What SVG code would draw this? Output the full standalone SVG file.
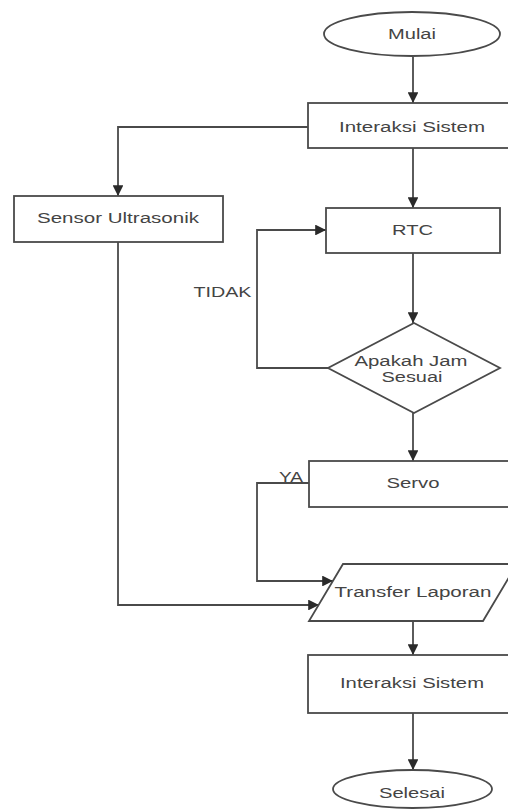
<svg xmlns="http://www.w3.org/2000/svg" width="508" height="809" viewBox="0 0 508 809">
<style>
.s{fill:#ffffff;stroke:#4a4a4a;stroke-width:1.8}
.c{fill:none;stroke:#4a4a4a;stroke-width:1.8}
.t{font-family:"Liberation Sans",Arial,sans-serif;font-size:14px;fill:#444444;text-anchor:middle}
</style>
<defs>
<marker id="a" viewBox="0 0 10 10" refX="10" refY="5" markerWidth="6" markerHeight="6" orient="auto" markerUnits="strokeWidth">
<path d="M0,0 L10,5 L0,10 Z" fill="#2a2a2a"/>
</marker>
</defs>
<rect width="508" height="809" fill="#ffffff"/>
<g id="connectors">
<path class="c" d="M413,57 V103" marker-end="url(#a)"/>
<path class="c" d="M308,127 H118 V196" marker-end="url(#a)"/>
<path class="c" d="M413,148 V208" marker-end="url(#a)"/>
<path class="c" d="M413,253 V323" marker-end="url(#a)"/>
<path class="c" d="M328,368 H257 V230 H326" marker-end="url(#a)"/>
<path class="c" d="M413,413 V461" marker-end="url(#a)"/>
<path class="c" d="M309,483 H257 V581 H333" marker-end="url(#a)"/>
<path class="c" d="M118,242 V605 H319" marker-end="url(#a)"/>
<path class="c" d="M413,621 V655" marker-end="url(#a)"/>
<path class="c" d="M413,713 V770" marker-end="url(#a)"/>
</g>
<g id="mulai">
<ellipse class="s" cx="412" cy="34" rx="88" ry="22"/>
<text class="t" x="412" y="39" textLength="48" lengthAdjust="spacingAndGlyphs">Mulai</text>
</g>
<g id="interaksi1">
<rect class="s" x="308" y="103" width="210" height="45"/>
<text class="t" x="412" y="132" textLength="146" lengthAdjust="spacingAndGlyphs">Interaksi Sistem</text>
</g>
<g id="sensor">
<rect class="s" x="14" y="196" width="209" height="46"/>
<text class="t" x="118" y="223" textLength="162" lengthAdjust="spacingAndGlyphs">Sensor Ultrasonik</text>
</g>
<g id="rtc">
<rect class="s" x="326" y="208" width="174" height="45"/>
<text class="t" x="412.5" y="235" textLength="41" lengthAdjust="spacingAndGlyphs">RTC</text>
</g>
<g id="tidak">
<text class="t" x="222.5" y="297" textLength="58" lengthAdjust="spacingAndGlyphs">TIDAK</text>
</g>
<g id="apakah">
<polygon class="s" points="414,323 500,368 414,413 328,368"/>
<text class="t" x="411" y="366" textLength="113" lengthAdjust="spacingAndGlyphs">Apakah Jam</text>
<text class="t" x="412" y="382" textLength="61" lengthAdjust="spacingAndGlyphs">Sesuai</text>
</g>
<g id="servo">
<rect class="s" x="309" y="461" width="210" height="46"/>
<text class="t" x="413" y="488" textLength="53" lengthAdjust="spacingAndGlyphs">Servo</text>
</g>
<g id="ya">
<text class="t" x="291" y="482" textLength="24" lengthAdjust="spacingAndGlyphs">YA</text>
</g>
<g id="transfer">
<polygon class="s" points="343,564 517,564 483,621 309,621"/>
<text class="t" x="413" y="597" textLength="157" lengthAdjust="spacingAndGlyphs">Transfer Laporan</text>
</g>
<g id="interaksi2">
<rect class="s" x="308" y="655" width="210" height="58"/>
<text class="t" x="412" y="688" textLength="144" lengthAdjust="spacingAndGlyphs">Interaksi Sistem</text>
</g>
<g id="selesai">
<ellipse class="s" cx="412.5" cy="789" rx="79.5" ry="19"/>
<text class="t" x="412" y="798" textLength="66" lengthAdjust="spacingAndGlyphs">Selesai</text>
</g>
</svg>
